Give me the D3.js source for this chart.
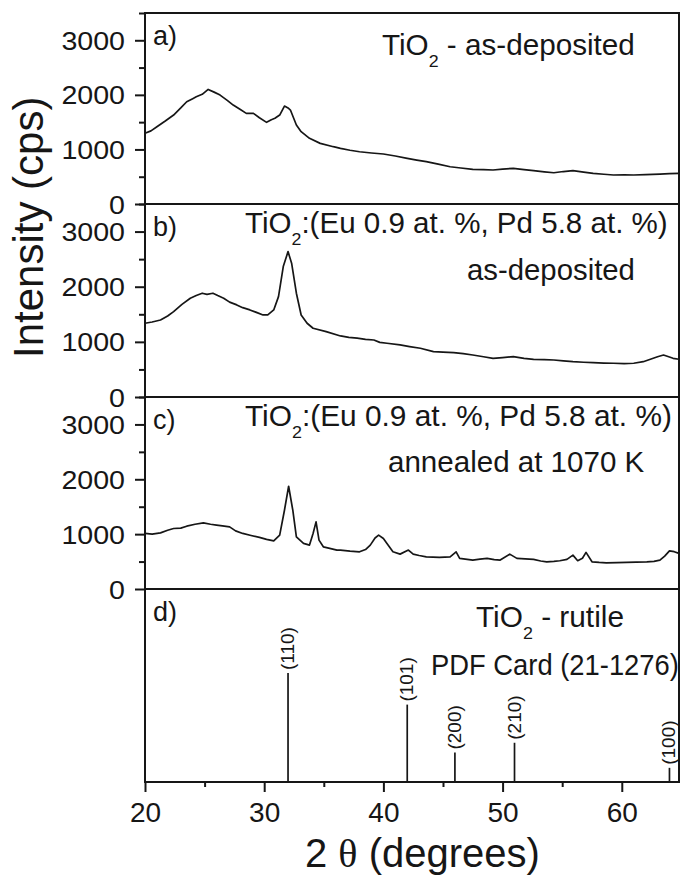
<html>
<script src="https://cdn.jsdelivr.net/npm/d3@7"></script>
<style>
  body { margin: 0; background: #fff; }
  text { font-family: "Liberation Sans", Arial, sans-serif; fill: #161616; }
</style>
<body>
<svg width="680" height="876"></svg>
<script>
// x ticks (2 theta) and intensity ticks
const angleTicks = [20, 30, 40, 50, 60];
const angleMinor = [25, 35, 45, 55];
const countTicks = [0, 1000, 2000, 3000];
const countMinor = [500, 1500, 2500, 3500];

// a) TiO2 as-deposited  [2theta, cps]
const patternA = [[20.0,1295],[20.5,1340],[21.0,1416],[21.7,1520],[22.4,1630],[23.0,1760],[23.5,1874],[24.0,1930],[24.3,1965],
  [24.8,2010],[25.3,2100],[25.8,2050],[26.3,1996],[26.9,1900],[27.4,1813],[28.0,1730],[28.5,1661],[29.1,1661],[29.6,1580],
  [30.2,1496],[30.6,1545],[30.9,1570],[31.3,1630],[31.7,1795],[32.0,1760],[32.2,1722],[32.7,1447],[33.1,1325],[33.8,1203],
  [34.7,1111],[35.8,1050],[36.4,1020],[37.2,985],[38.0,958],[39.0,935],[40.0,916],[41.0,880],[42.0,837],[42.8,805],[43.6,775],
  [44.6,730],[45.6,683],[46.5,660],[47.5,636],[48.4,630],[49.2,623],[50.0,640],[50.9,654],[51.8,630],[52.6,610],[53.5,590],
  [54.3,573],[55.1,595],[55.9,610],[56.8,585],[57.6,562],[58.5,545],[59.3,531],[60.2,535],[61.0,531],[62.0,540],[63.2,549],
  [64.0,555],[64.8,562]];

// b) TiO2:(Eu,Pd) as-deposited
const patternB = [[20.0,1337],[20.6,1360],[21.3,1397],[21.9,1470],[22.4,1548],[23.1,1680],[23.8,1791],[24.3,1840],[24.8,1882],
  [25.2,1860],[25.7,1882],[26.1,1840],[26.6,1791],[27.1,1720],[27.7,1670],[28.2,1620],[28.8,1579],[29.4,1530],[29.9,1488],
  [30.3,1488],[30.8,1579],[31.2,1820],[31.6,2365],[32.0,2637],[32.3,2426],[32.7,1882],[33.1,1488],[33.6,1337],[34.1,1247],
  [35.2,1185],[36.4,1107],[37.1,1080],[37.8,1067],[38.5,1045],[39.2,1034],[39.7,990],[40.3,975],[41.4,944],[42.2,915],
  [43.1,884],[44.2,822],[45.0,815],[45.9,804],[46.7,785],[47.5,762],[48.4,730],[49.2,702],[50.0,715],[50.9,731],[51.8,700],
  [52.6,684],[53.5,678],[54.3,671],[55.1,655],[55.9,641],[56.8,630],[57.6,622],[58.5,615],[59.3,612],[60.2,605],[61.0,612],
  [61.8,640],[62.4,684],[63.0,730],[63.5,762],[64.0,725],[64.3,702],[64.8,684]];

// c) TiO2:(Eu,Pd) annealed at 1070 K
const patternC = [[20.0,1013],[20.6,1000],[21.3,1024],[21.9,1070],[22.4,1103],[23.0,1110],[23.5,1145],[24.2,1180],[24.9,1205],
  [25.5,1180],[26.0,1164],[26.5,1150],[27.1,1133],[27.6,1060],[28.2,1013],[28.9,975],[29.6,940],[30.2,905],[30.8,878],
  [31.3,982],[31.7,1436],[32.05,1873],[32.4,1436],[32.7,951],[33.3,831],[33.8,800],[34.1,1013],[34.35,1224],[34.6,891],
  [34.96,769],[35.5,740],[36.1,709],[36.4,709],[37.2,690],[38.0,678],[38.5,720],[38.9,800],[39.3,930],[39.6,982],[40.0,920],
  [40.3,831],[40.8,678],[41.4,636],[42.1,709],[42.5,636],[43.0,610],[43.6,587],[44.7,576],[45.6,587],[46.1,678],[46.4,558],
  [47.5,527],[48.1,545],[48.7,558],[49.3,535],[49.8,527],[50.6,636],[51.2,558],[51.9,550],[52.6,540],[53.2,510],[53.7,496],
  [54.3,505],[54.8,515],[55.4,540],[55.9,618],[56.3,515],[56.7,560],[57.0,667],[57.5,496],[58.1,485],[58.7,478],[59.6,480],
  [60.4,485],[61.2,490],[62.1,496],[62.7,505],[63.2,527],[63.6,600],[64.0,696],[64.4,680],[64.8,649]];

// d) rutile reference lines
const stickAngles = [32.0, 42.0, 46.0, 51.0, 64.0];
const stickIntensity = [100, 71, 27, 36, 13];
const stickHkl = ["(110)", "(101)", "(200)", "(210)", "(100)"];

const svg = d3.select("svg");
const left = 145, right = 679;
const rows = [[13, 204], [204, 397], [397, 589], [589, 782]];
const ink = "#161616";

const x = d3.scaleLinear().domain([20, 64.8]).range([left, right]);
const ys = rows.slice(0, 3).map(r => d3.scaleLinear().domain([0, 3500]).range([r[1], r[0]]));
const yStick = d3.scaleLinear().domain([0, 100]).range([782, 673]);

// text with optional subscript, stretched to a measured width
function label(px, py, parts, size, width) {
  const g = svg.append("g").attr("transform", `translate(${px},${py})`);
  const t = g.append("text").attr("font-size", size);
  parts.forEach(p => {
    if (p.sub) {
      t.append("tspan").text(p.sub).attr("font-size", size * 0.6).attr("dy", 12);
    } else {
      t.append("tspan").text(p.t).attr("dy", p.back ? -12 : 0);
    }
  });
  if (width) {
    const w = t.node().getBBox().width;
    g.attr("transform", `translate(${px},${py}) scale(${width / w},1)`);
  }
  return t;
}

// data lines
[patternA, patternB, patternC].forEach((p, k) => {
  svg.append("path").datum(p)
    .attr("fill", "none").attr("stroke", ink).attr("stroke-width", 1.7)
    .attr("stroke-linejoin", "round")
    .attr("d", d3.line().x(d => x(d[0])).y(d => ys[k](d[1])));
});

// rutile sticks
svg.append("g").selectAll("line").data(stickAngles).join("line")
  .attr("x1", d => x(d)).attr("x2", d => x(d))
  .attr("y1", yStick(0)).attr("y2", (d, i) => yStick(stickIntensity[i]))
  .attr("stroke", ink).attr("stroke-width", 1.7);
svg.append("g").selectAll("text").data(stickAngles).join("text")
  .attr("transform", (d, i) => `translate(${x(d) + 6},${yStick(stickIntensity[i]) - 3}) rotate(-90)`)
  .attr("font-size", 19)
  .text((d, i) => stickHkl[i]);

// frames
rows.forEach(r => {
  svg.append("rect").attr("x", left).attr("y", r[0]).attr("width", right - left).attr("height", r[1] - r[0])
    .attr("fill", "none").attr("stroke", ink).attr("stroke-width", 2);
});

// y axes
ys.forEach(y => {
  const gMaj = svg.append("g").attr("transform", `translate(${left},0)`)
    .call(d3.axisLeft(y).tickValues(countTicks).tickSize(10).tickSizeOuter(0).tickFormat(d3.format("d")));
  gMaj.select(".domain").remove();
  gMaj.selectAll("line").attr("stroke", ink).attr("stroke-width", 2);
  gMaj.selectAll("text").attr("font-size", 26).attr("font-family", "Liberation Sans, Arial, sans-serif")
    .attr("fill", ink).attr("x", -20 / 1.1).attr("dy", "0.35em")
    .attr("transform", "scale(1.1,1)");
  const gMin = svg.append("g").attr("transform", `translate(${left},0)`)
    .call(d3.axisLeft(y).tickValues(countMinor).tickSize(6).tickSizeOuter(0).tickFormat(""));
  gMin.select(".domain").remove();
  gMin.selectAll("line").attr("stroke", ink).attr("stroke-width", 2);
});

// x axis
const gx = svg.append("g").attr("transform", "translate(0,782)")
  .call(d3.axisBottom(x).tickValues(angleTicks).tickSize(10).tickSizeOuter(0));
gx.select(".domain").remove();
gx.selectAll("line").attr("stroke", ink).attr("stroke-width", 2);
gx.selectAll("text").attr("font-size", 28).attr("font-family", "Liberation Sans, Arial, sans-serif")
  .attr("fill", ink).attr("y", 40).attr("dy", 0);
const gxm = svg.append("g").attr("transform", "translate(0,782)")
  .call(d3.axisBottom(x).tickValues(angleMinor).tickSize(5).tickSizeOuter(0).tickFormat(""));
gxm.select(".domain").remove();
gxm.selectAll("line").attr("stroke", ink).attr("stroke-width", 2);

// panel letters
["a)", "b)", "c)", "d)"].forEach((s, i) => {
  svg.append("text").attr("x", 153).attr("y", rows[i][0] + 32).attr("font-size", 27).text(s);
});

// panel annotations
label(382, 55, [{t: "TiO"}, {sub: "2"}, {t: " - as-deposited", back: true}], 29, 253);
label(245, 233, [{t: "TiO"}, {sub: "2"}, {t: ":(Eu 0.9 at. %, Pd 5.8 at. %)", back: true}], 29, 423);
label(467, 280, [{t: "as-deposited"}], 29, 168);
label(245, 426, [{t: "TiO"}, {sub: "2"}, {t: ":(Eu 0.9 at. %, Pd 5.8 at. %)", back: true}], 29, 427);
label(388, 472, [{t: "annealed at 1070 K"}], 29, 257);
label(476, 627, [{t: "TiO"}, {sub: "2"}, {t: " - rutile", back: true}], 29, 148);
label(431, 675, [{t: "PDF Card (21-1276)"}], 29, 248);

// axis titles
svg.append("text").attr("transform", "translate(43,358) rotate(-90)")
  .attr("font-size", 42).text("Intensity (cps)");
const xt = svg.append("text").attr("x", 305).attr("y", 867).attr("font-size", 40);
xt.append("tspan").text("2 ");
xt.append("tspan").attr("font-family", "Liberation Serif, serif").text("θ");
xt.append("tspan").text(" (degrees)");
</script>
</body>
</html>
